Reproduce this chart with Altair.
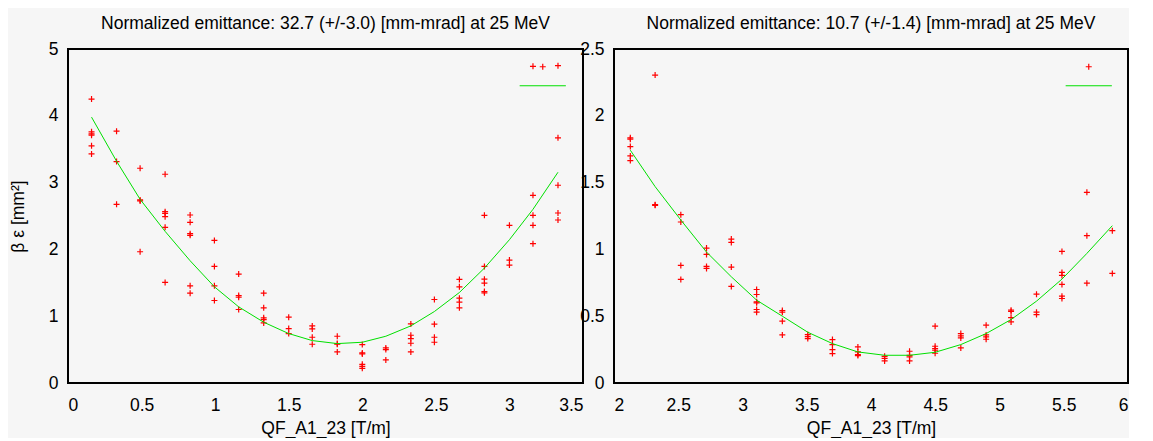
import altair as alt
import pandas as pd

# ---------------- data ----------------
left_x = [0.16, 0.33, 0.49, 0.66, 0.83, 0.995, 1.16, 1.33, 1.5, 1.66,
          1.83, 2.0, 2.16, 2.33, 2.49, 2.66, 2.83, 3.0, 3.16, 3.33]
left_measured = [
    [4.25, 3.76, 3.73, 3.71, 3.55, 3.43],
    [3.77, 3.315, 2.675],
    [3.215, 2.74, 2.725, 1.965],
    [3.125, 2.565, 2.54, 2.49, 2.33, 1.505],
    [2.515, 2.405, 2.235, 2.21, 1.455, 1.345],
    [2.135, 1.745, 1.455, 1.235],
    [1.63, 1.31, 1.285, 1.10],
    [1.345, 1.125, 0.975, 0.95, 0.90],
    [0.985, 0.815, 0.74],
    [0.855, 0.81, 0.685, 0.58],
    [0.70, 0.59, 0.58, 0.465],
    [0.575, 0.45, 0.435, 0.28, 0.25, 0.22],
    [0.525, 0.50, 0.345],
    [0.885, 0.715, 0.665, 0.595, 0.465],
    [1.25, 0.88, 0.685, 0.61],
    [1.55, 1.44, 1.27, 1.21, 1.125],
    [2.51, 1.745, 1.555, 1.495, 1.37, 1.35],
    [2.36, 1.84, 1.765],
    [4.74, 2.81, 2.51, 2.36, 2.085],
    [4.75, 3.67, 2.96, 2.545, 2.44],
]
left_calc = [3.98, 3.32, 2.75, 2.27, 1.83, 1.44, 1.14, 0.91, 0.74, 0.635,
             0.59, 0.61, 0.70, 0.855, 1.07, 1.355, 1.72, 2.145, 2.60, 3.155]

right_x = [2.127, 2.32, 2.52, 2.72, 2.913, 3.11, 3.31, 3.508, 3.70, 3.898,
           4.106, 4.30, 4.499, 4.699, 4.896, 5.09, 5.288, 5.486, 5.68, 5.878]
right_measured = [
    [1.835, 1.825, 1.77, 1.70, 1.665],
    [2.305, 1.335, 1.33],
    [1.26, 1.205, 0.88, 0.775],
    [1.01, 0.9625, 0.8725, 0.8575],
    [1.0775, 1.0525, 0.8675, 0.7225],
    [0.70, 0.6625, 0.6075, 0.60, 0.55, 0.53],
    [0.5425, 0.53, 0.4625, 0.36],
    [0.3625, 0.3475, 0.3325],
    [0.325, 0.2875, 0.25, 0.22],
    [0.27, 0.2325, 0.2125, 0.205],
    [0.20, 0.185, 0.165],
    [0.2375, 0.2075, 0.195, 0.165],
    [0.425, 0.275, 0.2575, 0.245, 0.2225],
    [0.37, 0.3525, 0.3375, 0.2625],
    [0.4325, 0.36, 0.345, 0.3275],
    [0.545, 0.535, 0.49, 0.4575],
    [0.665, 0.53, 0.5125],
    [0.985, 0.8275, 0.805, 0.7375, 0.65, 0.6325],
    [1.4275, 1.1025, 0.7475],
    [1.14, 0.82],
]
right_calc = [1.7425, 1.47, 1.22, 0.98, 0.795, 0.62, 0.50, 0.38, 0.295, 0.2325,
              0.2075, 0.2075, 0.23, 0.2875, 0.37, 0.475, 0.6125, 0.7775, 0.97, 1.1775]

left_xticks = [0, 0.5, 1, 1.5, 2, 2.5, 3, 3.5]
left_yticks = [0, 0.5, 1, 1.5, 2, 2.5, 3, 3.5, 4, 4.5, 5]
right_xticks = [2, 2.5, 3, 3.5, 4, 4.5, 5, 5.5, 6]
right_yticks = [0, 0.5, 1, 1.5, 2, 2.5]

left_title = "Normalized emittance: 32.7 (+/-3.0) [mm-mrad] at 25 MeV"
right_title = "Normalized emittance: 10.7 (+/-1.4) [mm-mrad] at 25 MeV"
x_title = "QF_A1_23 [T/m]"
y_title = "β ε [mm²]"
series_names = ["Measured", "Calculated"]

# ---------------- styling ----------------
FONT = "Liberation Sans"
FS = 17.5
RED = "#ff0000"
GREEN = "#00e000"
PLUS = "M-1,0H1M0,-1V1"
LINE = "M-7.7,0H7.7"
BG = "#f6f6f6"


def panel(xs, meas, calc, xdom, xt, ydom, yt, title, ytitle, w, h):
    pts = pd.DataFrame([{"x": x, "y": y, "series": "Measured",
                         "label": "Measured"}
                        for x, ys in zip(xs, meas) for y in ys])
    crv = pd.DataFrame({"x": xs, "y": calc})
    xsc = alt.Scale(domain=xdom, nice=False, zero=False)
    ysc = alt.Scale(domain=ydom, nice=False, zero=False)
    common = dict(grid=False, domain=False, ticks=False, format="~g",
                  labelOverlap=False,
                  labelFont=FONT, labelFontSize=FS, labelColor="black",
                  titleFont=FONT, titleFontSize=FS, titleFontWeight="normal",
                  titleColor="black")
    xaxis = alt.Axis(orient="bottom", values=xt, labelPadding=13,
                     titlePadding=6, title=x_title, **common)
    if ytitle:
        yaxis = alt.Axis(orient="left", values=yt, labelPadding=10,
                         titlePadding=21, title=ytitle, **common)
    else:
        yaxis = alt.Axis(orient="left", values=yt, labelPadding=10,
                         title=None, **common)
    # legend of symbols only (labels invisible), to the right
    sym_leg = alt.Legend(orient="none", legendX=466, legendY=9, title=None,
                         labelOpacity=0, labelOffset=0, labelFont=FONT,
                         labelFontSize=FS, symbolSize=36,
                         symbolStrokeWidth=1.2, rowPadding=0, padding=0)
    # legend of labels only (symbols invisible), right-aligned on the left
    lab_leg = alt.Legend(orient="none", legendX=427.5, legendY=9, title=None,
                         symbolOpacity=0, labelAlign="right", labelOffset=0,
                         labelFont=FONT, labelFontSize=FS, labelColor="black",
                         symbolStrokeWidth=1.2, rowPadding=0, padding=0,
                         labelLimit=300)
    points = alt.Chart(pts).mark_point(filled=False, strokeWidth=1.2,
                                       opacity=1).encode(
        x=alt.X("x:Q", scale=xsc, axis=xaxis),
        y=alt.Y("y:Q", scale=ysc, axis=yaxis),
        color=alt.Color("series:N", scale=alt.Scale(domain=series_names,
                                                    range=[RED, GREEN]),
                        legend=sym_leg),
        shape=alt.Shape("series:N", scale=alt.Scale(domain=series_names,
                                                    range=[PLUS, LINE]),
                        legend=sym_leg),
        size=alt.Size("label:N", scale=alt.Scale(domain=series_names,
                                                 range=[36, 36]),
                      legend=lab_leg),
    )
    line = alt.Chart(crv).mark_line(color=GREEN, strokeWidth=1).encode(
        x=alt.X("x:Q", scale=xsc), y=alt.Y("y:Q", scale=ysc))

    return alt.layer(points, line).properties(
        width=w, height=h,
        title=alt.TitleParams(title, font=FONT, fontSize=FS,
                              fontWeight="normal", color="black",
                              anchor="middle", offset=8))


left = panel(left_x, left_measured, left_calc, [0, 3.5], left_xticks,
             [0, 5], left_yticks, left_title, y_title, 515, 334)
right = panel(right_x, right_measured, right_calc, [2, 6], right_xticks,
              [0, 2.5], right_yticks, right_title, None, 514, 334)

chart = alt.hconcat(left, right, spacing=31, bounds="flush").resolve_scale(
    color="independent", shape="independent", size="independent").properties(
    background=BG, padding={"left": 0, "top": 5, "right": 0, "bottom": 0}
).configure_view(stroke="black", strokeWidth=2)

chart.save("out.html", embed_options={"renderer": "svg", "actions": False})
